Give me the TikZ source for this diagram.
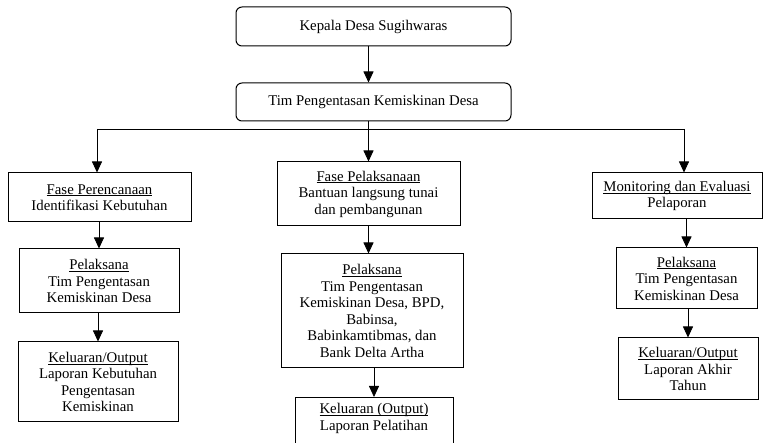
\documentclass[tikz,border=0pt]{standalone}
\usepackage{fontspec}
\setmainfont{Liberation Serif}
\usetikzlibrary{arrows.meta}
\newcommand\garis[1]{\underline{\raisebox{0pt}[\height][0pt]{#1}}}

\begin{document}
\begin{tikzpicture}[x=1pt,y=-1pt,
    kotak/.style={draw, line width=1pt, align=center, inner sep=0pt,
                  font=\fontsize{14.8}{16.5}\selectfont},
    kotakbulat/.style={kotak, rounded corners=6pt},
    panah/.style={line width=0.8pt, -{Triangle[width=10pt,length=11pt]}}]%{{{
\useasboundingbox (0,0) rectangle (764,443);
\clip (0,0) rectangle (764,443);
%
% Kepala desa et tim
\node [kotakbulat, minimum width=275, minimum height=39] (kades) at (373.5, 26.5)
      {Kepala Desa Sugihwaras};
\node [kotakbulat, minimum width=275, minimum height=38] (tim) at (373.5,102)
      {Tim Pengentasan Kemiskinan Desa};
%
% Fase perencanaan (gauche)
\node [kotak, minimum width=183, minimum height=49] (rencana) at (99.5,197.5)
      {\garis{Fase Perencanaan}\\Identifikasi Kebutuhan};
\node [kotak, minimum width=160, minimum height=64] (pelaksanaA) at (99,281)
      {\garis{Pelaksana}\\Tim Pengentasan\\Kemiskinan Desa};
\node [kotak, minimum width=160, minimum height=80] (keluaranA) at (98,382)
      {\garis{Keluaran/Output}\\Laporan Kebutuhan\\Pengentasan\\Kemiskinan};
%
% Fase pelaksanaan (milieu)
\node [kotak, minimum width=183, minimum height=64] (laksana) at (368.5,194)
      {\garis{Fase Pelaksanaan}\\Bantuan langsung tunai\\dan pembangunan};
\node [kotak, minimum width=182, minimum height=114] (pelaksanaB) at (372,311)
      {\garis{Pelaksana}\\Tim Pengentasan\\Kemiskinan Desa, BPD,\\Babinsa,\\Babinkamtibmas, dan\\Bank Delta Artha};
\node [kotak, minimum width=158, anchor=north, inner ysep=6pt] (keluaranB) at (374,397)
      {\garis{Keluaran (Output)}\\Laporan Pelatihan\\\strut\\\strut};
%
% Monitoring (droite)
\node [kotak, minimum width=170, minimum height=46] (monev) at (677,196)
      {\garis{Monitoring dan Evaluasi}\\Pelaporan};
\node [kotak, minimum width=141, minimum height=61] (pelaksanaC) at (686.5,278.5)
      {\garis{Pelaksana}\\Tim Pengentasan\\Kemiskinan Desa};
\node [kotak, minimum width=140, minimum height=62] (keluaranC) at (688,369)
      {\garis{Keluaran/Output}\\Laporan Akhir\\Tahun};
%
% Fleches
\coordinate (busL) at (97,129);
\coordinate (busR) at (684,129);
\draw [panah] (kades.south -| laksana) -- (tim.north -| laksana);
\draw [line width=0.8pt] (busL) -- (busR);
\draw [panah] (tim.south -| laksana) -- (laksana.north);
\draw [panah] (busL) -- (busL |- rencana.north);
\draw [panah] (busR) -- (busR |- monev.north);
%
\draw [panah] (rencana.south -| pelaksanaA) -- (pelaksanaA.north);
\draw [panah] (pelaksanaA.south -| keluaranA) -- (keluaranA.north);
\draw [panah] (laksana.south) -- (laksana.south |- pelaksanaB.north);
\draw [panah] (pelaksanaB.south -| keluaranB) -- (keluaranB.north);
\draw [panah] (monev.south -| pelaksanaC) -- (pelaksanaC.north);
\draw [panah] (pelaksanaC.south -| keluaranC) -- (keluaranC.north);
%
\end{tikzpicture}
\end{document}
